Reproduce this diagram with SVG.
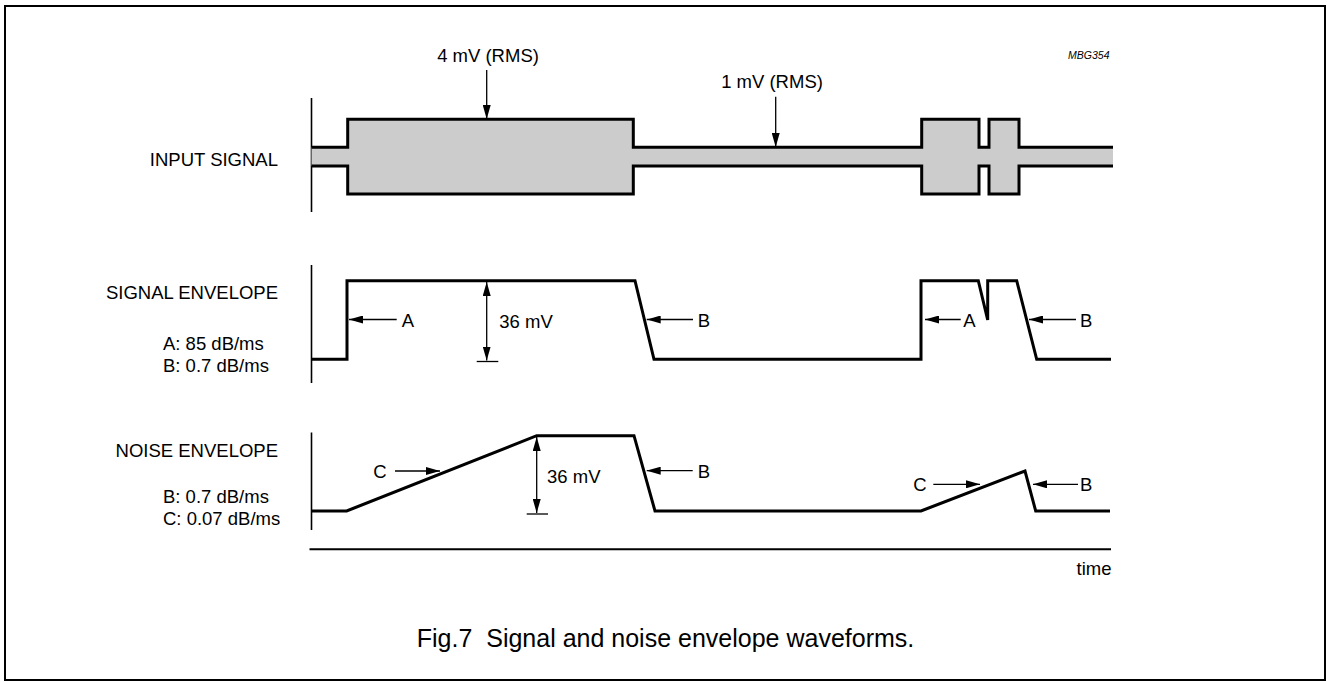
<svg xmlns="http://www.w3.org/2000/svg" width="1327" height="682" viewBox="0 0 1327 682">
<defs>
<marker id="ah" markerUnits="userSpaceOnUse" markerWidth="14" markerHeight="8" refX="14" refY="4" orient="auto-start-reverse">
<path d="M0,0 L14,4 L0,8 z" fill="#000"/>
</marker>
<style>
text{font-family:"Liberation Sans",Arial,sans-serif;fill:#000;font-size:18.5px}
.wave{fill:none;stroke:#000;stroke-width:3;stroke-linejoin:miter}
.axis{fill:none;stroke:#000;stroke-width:1.6}
.arr{fill:none;stroke:#000;stroke-width:1.3;marker-end:url(#ah)}
.dbl{fill:none;stroke:#000;stroke-width:1.3;marker-start:url(#ah);marker-end:url(#ah)}
.tick{fill:none;stroke:#000;stroke-width:1.3}
</style>
</defs>
<rect x="5" y="6" width="1320" height="674" fill="#fff" stroke="#000" stroke-width="2"/>

<g id="labels">
<text x="278" y="166" text-anchor="end">INPUT SIGNAL</text>
<text x="278" y="299" text-anchor="end">SIGNAL ENVELOPE</text>
<text x="163" y="349.5">A: 85 dB/ms</text>
<text x="163" y="372">B: 0.7 dB/ms</text>
<text x="278" y="456.5" text-anchor="end">NOISE ENVELOPE</text>
<text x="163" y="502.5">B: 0.7 dB/ms</text>
<text x="163" y="525">C: 0.07 dB/ms</text>
<text x="1109.5" y="59" font-style="italic" text-anchor="end" style="font-size:10.5px">MBG354</text>
<text x="488" y="62" text-anchor="middle">4 mV (RMS)</text>
<text x="772" y="88" text-anchor="middle">1 mV (RMS)</text>
<text x="1111.5" y="575" text-anchor="end">time</text>
<text x="665.5" y="647" text-anchor="middle" style="font-size:25px;white-space:pre" xml:space="preserve">Fig.7  Signal and noise envelope waveforms.</text>
</g>

<g id="axes">
<line class="axis" x1="311.5" y1="98" x2="311.5" y2="212"/>
<line class="axis" x1="311.5" y1="265" x2="311.5" y2="383"/>
<line class="axis" x1="311.5" y1="432.5" x2="311.5" y2="530"/>
<line x1="309.5" y1="549.3" x2="1111" y2="549.3" stroke="#000" stroke-width="2"/>
</g>

<g id="input-signal">
<path d="M311.5,147.3 H347.7 V119.3 H633.3 V147.3 H921.7 V119.3 H979 V147.3 H989 V119.3 H1019 V147.3 H1113 V166 H1019 V194 H989 V166 H979 V194 H921.7 V166 H633.3 V194 H347.7 V166 H311.5 Z" fill="#cccccc" stroke="none"/>
<polyline class="wave" points="311.5,147.3 347.7,147.3 347.7,119.3 633.3,119.3 633.3,147.3 921.7,147.3 921.7,119.3 979,119.3 979,147.3 989,147.3 989,119.3 1019,119.3 1019,147.3 1113,147.3"/>
<polyline class="wave" points="311.5,166 347.7,166 347.7,194 633.3,194 633.3,166 921.7,166 921.7,194 979,194 979,166 989,166 989,194 1019,194 1019,166 1113,166"/>
</g>

<g id="signal-envelope">
<polyline class="wave" points="311.5,359.3 347,359.3 347,280.7 635,280.7 654,359.3 921,359.3 921,280.7 978.3,280.7 987.7,320 987.7,280.7 1016.7,280.7 1036.7,359.3 1111,359.3"/>
</g>

<g id="noise-envelope">
<polyline class="wave" points="311.5,511 346.7,511 536.7,435.7 634,435.7 655,511 921,511 1025,471 1035.7,511 1110,511"/>
</g>

<g id="connectors">
<line class="arr" x1="486.7" y1="70" x2="486.7" y2="119"/>
<line class="arr" x1="775.7" y1="96.7" x2="775.7" y2="147"/>
<line class="dbl" x1="486.7" y1="282" x2="486.7" y2="360.5"/>
<line class="tick" x1="476.7" y1="361.5" x2="498.3" y2="361.5"/>
<line class="arr" x1="396.7" y1="319.5" x2="349" y2="319.5"/>
<line class="arr" x1="693" y1="319.5" x2="646.7" y2="319.5"/>
<line class="arr" x1="960.7" y1="319.5" x2="925" y2="319.5"/>
<line class="arr" x1="1076" y1="319.5" x2="1029" y2="319.5"/>
<line class="dbl" x1="536.7" y1="437" x2="536.7" y2="513"/>
<line class="tick" x1="526.7" y1="514" x2="548" y2="514"/>
<line class="arr" x1="395" y1="471" x2="440" y2="471"/>
<line class="arr" x1="692.7" y1="470.7" x2="646.7" y2="470.7"/>
<line class="arr" x1="933.3" y1="484.3" x2="980" y2="484.3"/>
<line class="arr" x1="1078" y1="484.3" x2="1033" y2="484.3"/>
</g>

<g id="connector-labels">
<text x="401.7" y="326.5">A</text>
<text x="697.7" y="326.5">B</text>
<text x="963.3" y="326.5">A</text>
<text x="1080" y="326.5">B</text>
<text x="499.3" y="327.5">36 mV</text>
<text x="373.3" y="478">C</text>
<text x="697.7" y="477.5">B</text>
<text x="913.3" y="491">C</text>
<text x="1080" y="491">B</text>
<text x="547" y="482.5">36 mV</text>
</g>
</svg>
